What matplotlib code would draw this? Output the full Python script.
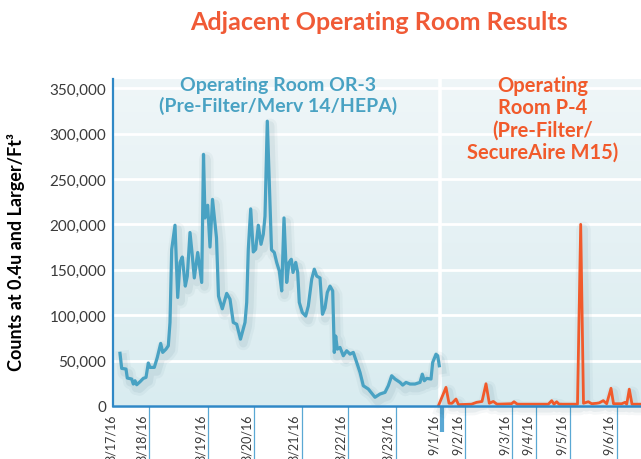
import numpy as np
import matplotlib
matplotlib.use("Agg")
import matplotlib.pyplot as plt
from matplotlib.colors import LinearSegmentedColormap
from matplotlib.transforms import ScaledTranslation
import matplotlib.patheffects as pe

plt.rcParams['font.family'] = ['Lato', 'DejaVu Sans']

# ---------------- data ----------------
title = "Adjacent Operating Room Results"
or3_title = "Operating Room OR-3\n(Pre-Filter/Merv 14/HEPA)"
p4_title = "Operating\nRoom P-4\n(Pre-Filter/\nSecureAire M15)"
y_label = "Counts at 0.4u and Larger/Ft³"

# sample index along the shared time axis, and counts (thousands)
or3_sample = [7, 8.7, 13, 14.3, 18.7, 20.3, 22, 23.7, 27, 30.3, 33, 35.3, 37,
              41.3, 44.3, 47.7, 49.7, 53, 55.3, 57, 58.7, 62, 64.7, 67, 69.3,
              72.3, 74.3, 77, 79, 81.3, 84.7, 88.7, 90.5, 92, 94.7, 97, 99.5,
              103.5, 105.5, 109.3, 113.7, 117, 120.3, 123.7, 127.5, 132, 133.7,
              135.3, 137.7, 140.3, 142.7, 145.3, 148, 150.3, 152, 154.3, 158.5,
              161.3, 163.7, 166.3, 168.7, 171, 173.7, 176, 178.3, 180, 182.7,
              184.7, 186.3, 189.3, 192.7, 195.3, 198.7, 201.3, 203.7, 207,
              209.5, 212, 214.3, 217, 219.7, 221.3, 222.7, 224.3, 227, 230.3,
              233.7, 237, 240.3, 243.7, 247, 250.3, 255.3, 262, 267, 272,
              275.3, 278.7, 282, 287, 289.7, 293, 297, 302, 307, 309.3, 311.3,
              313.7, 318, 319.7, 323, 324.7, 326.3]
or3_counts_k = [58, 41.4, 40.7, 30.8, 29.7, 24.2, 27.8, 23.4, 26.7, 30.4, 31.5,
                47.3, 42.5, 42.5, 53.5, 68.9, 59, 62.6, 66.3, 92, 172.5, 199,
                119.5, 158, 164, 132, 143, 191, 169, 141, 169, 136, 277, 207,
                221, 175, 227.5, 185, 121, 107, 124, 117.6, 92, 90, 73.6, 92,
                114, 172.5, 217, 169.6, 172.5, 199, 178, 189, 209, 313.5, 172,
                169, 158, 148.7, 126.7, 207, 136, 158, 161.5, 147, 158, 147,
                114, 103, 99, 110, 139.6, 150.6, 143, 141, 101, 108, 125, 132,
                126.7, 59, 77, 62.6, 64.5, 55.3, 60.8, 57.1, 59, 48, 37, 22.3,
                18.7, 9.6, 13.2, 15, 22.3, 33.3, 29.7, 26, 23, 26, 24.2, 24.2,
                26, 35, 27.8, 30.4, 29.7, 48, 57, 55.3, 44.3]

p4_sample = [325.5, 333, 336, 339, 343, 345.5, 358.5, 363.5, 369, 373, 376.3,
             380.3, 384, 398.5, 401, 404.3, 435.3, 438.7, 441, 443.7, 446,
             464.5, 467.7, 470.5, 475.3, 478.7, 483.7, 486.3, 490.3, 493.7,
             498, 500.5, 508.7, 512, 513.7, 516.3, 519, 528]
p4_counts_k = [0.5, 20.5, 3, 3, 7.7, 1.5, 2, 4, 5, 24.5, 3, 5, 2, 2.5, 4.7,
               2, 2, 5.9, 2, 4.7, 2, 2, 200, 3, 4.7, 2.5, 3, 3.5, 5.9, 2.5,
               19.5, 2.5, 2.5, 4, 2, 18.5, 2, 2]

date_labels = ["8/17/16", "8/18/16", "8/19/16", "8/20/16", "8/21/16",
               "8/22/16", "8/23/16", "9/1/16", "9/2/16", "9/3/16", "9/4/16",
               "9/5/16", "9/6/16"]
date_sample = [5, 36.3, 95, 141, 188.5, 235.3, 282.5, 328.7, 352.3, 399.2,
               422.6, 456.5, 503.8]

y_ticks = [0, 50000, 100000, 150000, 200000, 250000, 300000, 350000]

# ---------------- style ----------------
BLUE = "#49a2c3"
ORANGE = "#f15a2b"
TITLE_ORANGE = "#f05a36"
AXIS_BLUE = "#2f88c6"
TICK_BLUE = "#5aa8d4"
panel_split = 327.3
x_max = 528
y_max = 360000

W, H = 641, 460
fig = plt.figure(figsize=(W / 100, H / 100), dpi=100)
fig.patch.set_facecolor("white")
rect = [113 / W, 53 / H, 528 / W, 327 / H]

# gradient background axes
bg = fig.add_axes(rect, zorder=0)
bg.set_axis_off()
cmap = LinearSegmentedColormap.from_list("bg", ["#d9ecf0", "#e5f1f4", "#eff6f8"])
grad = np.linspace(0, 1, 256).reshape(-1, 1)
bg.imshow(grad, cmap=cmap, aspect="auto", origin="lower", extent=[0, 1, 0, 1])

ax = fig.add_axes(rect, zorder=1)
ax.set_facecolor("none")

shadow = [pe.Stroke(linewidth=10, foreground="#0d4858", alpha=0.04, offset=(2, -3)),
          pe.Stroke(linewidth=6, foreground="#0d4858", alpha=0.06, offset=(2, -3)),
          pe.Normal()]

or3_counts = np.array(or3_counts_k) * 1000
p4_counts = np.array(p4_counts_k) * 1000

ax.plot(or3_sample, or3_counts, color=BLUE, lw=2.3, solid_joinstyle="round",
        path_effects=shadow, zorder=3, clip_on=False)
ax.plot(p4_sample, p4_counts, color=ORANGE, lw=2.0, solid_joinstyle="round",
        path_effects=shadow, zorder=3, clip_on=False)

# separator between the two rooms
ax.axvline(panel_split, color="white", lw=2.6, zorder=2)

ax.set_xlim(0, x_max)
ax.set_ylim(0, y_max)
ax.set_yticks(y_ticks)
ax.set_yticklabels([f"{v:,}" for v in y_ticks], fontsize=11, color="#3a3a3a")
ax.yaxis.grid(True, color="white", lw=2)
ax.set_axisbelow(True)
ax.tick_params(axis="y", length=0, pad=5)

for s in ["top", "right"]:
    ax.spines[s].set_visible(False)
ax.spines["left"].set_color(AXIS_BLUE)
ax.spines["left"].set_linewidth(1.6)
ax.spines["bottom"].set_color(AXIS_BLUE)
ax.spines["bottom"].set_linewidth(1.8)
ax.spines["bottom"].set_zorder(4)

# long tick lines below the axis (first date sits on the y-axis)
ax.set_xticks(date_sample[1:])
ax.tick_params(axis="x", length=40, width=0.9, color=TICK_BLUE, labelbottom=False,
               direction="out")
split_idx = date_labels.index("9/1/16") - 1
tick = ax.xaxis.get_major_ticks()[split_idx]
tick.tick1line.set_markersize(19)
tick.tick1line.set_markeredgewidth(3)
tick.tick1line.set_color(AXIS_BLUE)

# date labels just left of each tick line
lab_tr = ax.get_xaxis_transform() + ScaledTranslation(-7.5 / 100, -8 / 100, fig.dpi_scale_trans)
for xs, lab in zip(date_sample, date_labels):
    ax.text(xs, 0, lab, transform=lab_tr, rotation=90, ha="center", va="top",
            fontsize=9, color="#3a3a3a", clip_on=False)

# titles
fig.text(379 / W, 1 - 23 / H, title, ha="center", va="center", fontsize=18,
         fontweight="bold", color=TITLE_ORANGE)
fig.text(278 / W, 1 - 96 / H, or3_title, ha="center", va="center", fontsize=14,
         fontweight="bold", color=BLUE, linespacing=1.2)
fig.text(543 / W, 1 - 119.5 / H, p4_title, ha="center", va="center", fontsize=14.5,
         fontweight="bold", color=ORANGE, linespacing=1.15)
fig.text(16 / W, 1 - 252 / H, y_label, ha="center", va="center", rotation=90,
         fontsize=13, fontweight="bold", color="black")

fig.savefig("out.png", dpi=100, facecolor="white")
